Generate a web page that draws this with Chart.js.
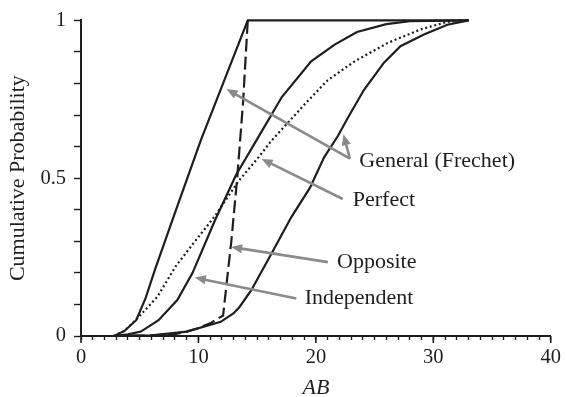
<!DOCTYPE html>
<html>
<head>
<meta charset="utf-8">
<script src="https://cdn.jsdelivr.net/npm/chart.js@4"></script>
<style>
  html, body { margin: 0; padding: 0; background: #fff; }
  canvas { display: block; }
</style>
</head>
<body>
<canvas id="cdf" width="566" height="397"></canvas>
<script>
// Cumulative distribution of AB under different dependence assumptions
const upperAB = [2.8, 3.7, 4.7, 5.5, 6.3, 8.0, 10.2, 12.2, 14.2, 33];
const upperP  = [0, 0.016, 0.05, 0.12, 0.21, 0.39, 0.62, 0.81, 1, 1];

const oppositeAB = [2.8, 6, 8, 9, 10, 11, 12.1, 12.5, 12.8, 13.3, 13.8, 14.2];
const oppositeP  = [0, 0.002, 0.006, 0.014, 0.025, 0.04, 0.065, 0.2, 0.3, 0.5, 0.74, 1];

const independentAB = [2.8, 4.0, 5.1, 6.6, 8.2, 9.5, 11.4, 13.2, 15.1, 17.1, 19.6, 21.6, 23.5, 26.0, 28.0, 33];
const independentP  = [0, 0.005, 0.014, 0.05, 0.114, 0.2, 0.366, 0.51, 0.63, 0.757, 0.87, 0.923, 0.963, 0.988, 0.997, 1];

const perfectAB = [2.8, 3.7, 4.8, 6.5, 8.05, 9.5, 11.4, 13.4, 15.2, 16.2, 19.05, 21.0, 23.3, 26.1, 28.9, 31.2, 33];
const perfectP  = [0, 0.016, 0.056, 0.124, 0.22, 0.29, 0.38, 0.49, 0.57, 0.618, 0.734, 0.81, 0.87, 0.928, 0.971, 0.995, 1];

const lowerAB = [2.8, 6, 9, 11.9, 13.0, 13.5, 14.5, 16.2, 17.9, 19.5, 20.7, 21.9, 22.7, 24.1, 25.8, 27.2, 29.2, 31.2, 33];
const lowerP  = [0, 0.002, 0.014, 0.045, 0.072, 0.092, 0.145, 0.26, 0.376, 0.47, 0.566, 0.635, 0.69, 0.78, 0.866, 0.918, 0.955, 0.986, 1];

// Axis tick labels
const xLabelValues = [0, 10, 20, 30, 40];
const yLabelValues = [0, 0.5, 1];
const yLabelText   = ['0', '0.5', '1'];

// Callout labels and their arrows (data units)
const calloutText = ['General (Frechet)', 'Perfect', 'Opposite', 'Independent'];
const calloutAB   = [23.7, 23.14, 21.8, 19.05];
const calloutP    = [0.555, 0.429, 0.234, 0.119];

const arrowFromAB = [22.9, 22.9, 22.29, 21.02, 18.34];
const arrowFromP  = [0.562, 0.562, 0.434, 0.234, 0.119];
const arrowToAB   = [12.39, 22.35, 15.38, 12.78, 9.69];
const arrowToP    = [0.782, 0.639, 0.561, 0.282, 0.185];

const SERIF = '"Liberation Serif", "DejaVu Serif", serif';
const INK = '#1e1e1e';
const ARROW = '#8a8a8a';

const pts = (xs, ys) => xs.map((x, i) => ({ x: x, y: ys[i] }));

const curve = (label, xs, ys, dash) => ({
  label: label,
  data: pts(xs, ys),
  borderColor: INK,
  borderWidth: 2.2,
  borderDash: dash,
  pointRadius: 0,
  tension: 0,
  fill: false,
  clip: false
});

const calloutPlugin = {
  id: 'callouts',
  afterDatasetsDraw(chart) {
    const { ctx, scales: { x, y } } = chart;
    ctx.save();
    // arrows
    ctx.strokeStyle = ARROW;
    ctx.fillStyle = ARROW;
    ctx.lineWidth = 2.6;
    ctx.lineCap = 'butt';
    for (let i = 0; i < arrowFromAB.length; i++) {
      const x0 = x.getPixelForValue(arrowFromAB[i]);
      const y0 = y.getPixelForValue(arrowFromP[i]);
      const x1 = x.getPixelForValue(arrowToAB[i]);
      const y1 = y.getPixelForValue(arrowToP[i]);
      const ang = Math.atan2(y1 - y0, x1 - x0);
      const headLen = 11, headHalf = 4.6;
      const bx = x1 - headLen * Math.cos(ang);
      const by = y1 - headLen * Math.sin(ang);
      ctx.beginPath();
      ctx.moveTo(x0, y0);
      ctx.lineTo(bx + 2 * Math.cos(ang), by + 2 * Math.sin(ang));
      ctx.stroke();
      ctx.beginPath();
      ctx.moveTo(x1, y1);
      ctx.lineTo(bx + headHalf * Math.sin(ang), by - headHalf * Math.cos(ang));
      ctx.lineTo(bx - headHalf * Math.sin(ang), by + headHalf * Math.cos(ang));
      ctx.closePath();
      ctx.fill();
    }
    // labels
    ctx.fillStyle = INK;
    ctx.font = '22px ' + SERIF;
    ctx.textAlign = 'left';
    ctx.textBaseline = 'middle';
    for (let i = 0; i < calloutText.length; i++) {
      ctx.fillText(calloutText[i], x.getPixelForValue(calloutAB[i]), y.getPixelForValue(calloutP[i]));
    }
    ctx.restore();
  },
  afterDraw(chart) {
    // longer marks at labelled x ticks
    const { ctx, scales: { x } } = chart;
    ctx.save();
    ctx.strokeStyle = INK;
    ctx.lineWidth = 1.6;
    const top = x.top;
    xLabelValues.forEach(v => {
      const px = x.getPixelForValue(v);
      ctx.beginPath();
      ctx.moveTo(px, top);
      ctx.lineTo(px, top + 7);
      ctx.stroke();
    });
    ctx.restore();
  }
};

new Chart(document.getElementById('cdf'), {
  type: 'line',
  data: {
    datasets: [
      curve('General (Frechet) upper', upperAB, upperP, []),
      curve('Opposite', oppositeAB, oppositeP, [13, 5]),
      curve('Independent', independentAB, independentP, []),
      curve('Perfect', perfectAB, perfectP, [2, 2.7]),
      curve('General (Frechet) lower', lowerAB, lowerP, [])
    ]
  },
  options: {
    responsive: false,
    animation: false,
    layout: { padding: { top: 19, right: 12, left: 0, bottom: 0 } },
    plugins: { legend: { display: false }, tooltip: { enabled: false } },
    scales: {
      x: {
        type: 'linear',
        min: 0, max: 40,
        afterFit(s) { s.height = 61; },
        border: { display: true, color: INK, width: 2 },
        grid: { drawOnChartArea: false, drawTicks: true, tickLength: 4, tickColor: INK, tickWidth: 1.4 },
        ticks: {
          stepSize: 1,
          autoSkip: false,
          maxRotation: 0,
          padding: 5,
          color: INK,
          font: { family: SERIF, size: 20.5 },
          callback: v => (xLabelValues.includes(v) ? String(v) : '')
        },
        title: {
          display: true,
          text: 'AB',
          color: INK,
          font: { family: SERIF, size: 22, style: 'italic' },
          padding: { top: 0, bottom: -4 }
        }
      },
      y: {
        type: 'linear',
        min: 0, max: 1,
        afterFit(s) { s.width = 81; },
        border: { display: true, color: INK, width: 2 },
        grid: { drawOnChartArea: false, drawTicks: true, tickLength: 7, tickColor: INK, tickWidth: 1.4 },
        ticks: {
          stepSize: 0.1,
          autoSkip: false,
          padding: 8,
          color: INK,
          font: { family: SERIF, size: 20.5 },
          callback: v => {
            const k = yLabelValues.findIndex(t => Math.abs(t - v) < 1e-6);
            return k >= 0 ? yLabelText[k] : '';
          }
        },
        title: {
          display: true,
          text: 'Cumulative Probability',
          color: INK,
          font: { family: SERIF, size: 22 },
          padding: { top: 5, bottom: 0 }
        }
      }
    }
  },
  plugins: [calloutPlugin]
});
</script>
</body>
</html>
